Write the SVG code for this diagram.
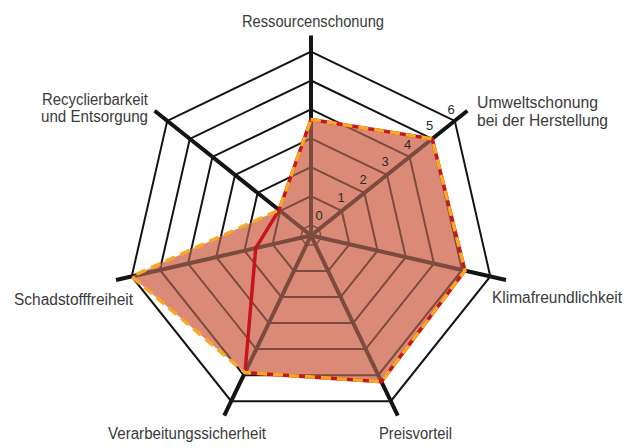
<svg xmlns="http://www.w3.org/2000/svg" xmlns:xlink="http://www.w3.org/1999/xlink" width="638" height="448" viewBox="0 0 638 448">
  <style>
    .ring { fill: none; stroke-width: 2; stroke-linejoin: miter; }
    .ring-0 { fill: none; stroke-width: 1.4; }
    .spoke { fill: none; stroke-width: 4; }
    .area { fill: #dc8a78; stroke: none; }
    .series-a { fill: none; stroke: #c4161c; stroke-width: 3.5; stroke-linejoin: miter; }
    .series-b { fill: none; stroke: #f8a824; stroke-width: 3.5; stroke-dasharray: 10 6; stroke-linejoin: miter; }
    .axis-label { font-family: "Liberation Sans", Arial, sans-serif; font-size: 16px; fill: #3a3a3a; }
    .tick { font-family: "Liberation Sans", Arial, sans-serif; font-size: 13px; fill: #2a2a2a; text-anchor: middle; }
  </style>
  <defs>
    <!-- heptagonal grid: rings 0..6 and seven spokes, centred on the origin -->
    <g id="grid">
      <polygon class="ring-0" points="0,-10.5 8.21,-6.55 10.24,2.34 4.56,9.46 -4.56,9.46 -10.24,2.34 -8.21,-6.55"/>
      <polygon class="ring" points="0,-39.4 30.8,-24.57 38.41,8.77 17.09,35.5 -17.09,35.5 -38.41,8.77 -30.8,-24.57"/>
      <polygon class="ring" points="0,-68.3 53.4,-42.58 66.59,15.2 29.63,61.54 -29.63,61.54 -66.59,15.2 -53.4,-42.58"/>
      <polygon class="ring" points="0,-97.2 75.99,-60.6 94.76,21.63 42.17,87.57 -42.17,87.57 -94.76,21.63 -75.99,-60.6"/>
      <polygon class="ring" points="0,-126.1 98.59,-78.62 122.94,28.06 54.71,113.61 -54.71,113.61 -122.94,28.06 -98.59,-78.62"/>
      <polygon class="ring" points="0,-155 121.18,-96.64 151.11,34.49 67.25,139.65 -67.25,139.65 -151.11,34.49 -121.18,-96.64"/>
      <polygon class="ring" points="0,-183.9 143.78,-114.66 179.29,40.92 79.79,165.69 -79.79,165.69 -179.29,40.92 -143.78,-114.66"/>
      <path class="spoke" d="M0,0V-200 M0,0L156.37,-124.7 M0,0L194.99,44.5 M0,0L86.78,180.19 M0,0L-86.78,180.19 M0,0L-194.99,44.5 M0,0L-156.37,-124.7"/>
    </g>
    <clipPath id="area-clip">
      <polygon points="0,-116 121.18,-96.64 153.94,35.14 70.38,146.14 -65.99,137.04 -179.29,40.92 -31.9,-25.44"/>
    </clipPath>
  </defs>

  <rect width="638" height="448" fill="#ffffff"/>

  <g id="chart" transform="translate(311,235.5)">
    <use id="grid-outer" href="#grid" xlink:href="#grid" stroke="#141414"/>
    <polygon id="area" class="area" points="0,-116 121.18,-96.64 153.94,35.14 70.38,146.14 -65.99,137.04 -179.29,40.92 -31.9,-25.44"/>
    <use id="grid-inner" href="#grid" xlink:href="#grid" stroke="#7b4b3e" clip-path="url(#area-clip)"/>
    <g id="series">
      <polygon class="series-a" points="0,-116 121.18,-96.64 153.94,35.14 70.38,146.14 -65.99,137.04 -55.28,12.62 -31.9,-25.44"/>
      <polygon class="series-b" points="0,-116 121.18,-96.64 153.94,35.14 70.38,146.14 -65.99,137.04 -179.29,40.92 -31.9,-25.44"/>
    </g>
  </g>

  <!-- scale values along the second spoke -->
  <g id="scale">
    <text class="tick" x="319" y="219.5">0</text>
    <text class="tick" x="341" y="201.5">1</text>
    <text class="tick" x="363" y="184">2</text>
    <text class="tick" x="385" y="166">3</text>
    <text class="tick" x="407.5" y="149">4</text>
    <text class="tick" x="429.5" y="130">5</text>
    <text class="tick" x="451" y="113.5">6</text>
  </g>

  <g id="label-ressourcen">
    <text class="axis-label" x="313" y="27" text-anchor="middle" textLength="142" lengthAdjust="spacingAndGlyphs">Ressourcenschonung</text>
  </g>
  <g id="label-umwelt">
    <text class="axis-label" x="477" y="108" textLength="121" lengthAdjust="spacingAndGlyphs">Umweltschonung</text>
    <text class="axis-label" x="477" y="125.5" textLength="131" lengthAdjust="spacingAndGlyphs">bei der Herstellung</text>
  </g>
  <g id="label-klima">
    <text class="axis-label" x="492" y="303" textLength="130" lengthAdjust="spacingAndGlyphs">Klimafreundlichkeit</text>
  </g>
  <g id="label-preis">
    <text class="axis-label" x="379" y="439" textLength="73" lengthAdjust="spacingAndGlyphs">Preisvorteil</text>
  </g>
  <g id="label-verarbeitung">
    <text class="axis-label" x="266" y="439" text-anchor="end" textLength="158" lengthAdjust="spacingAndGlyphs">Verarbeitungssicherheit</text>
  </g>
  <g id="label-schadstoff">
    <text class="axis-label" x="133" y="305" text-anchor="end" textLength="119" lengthAdjust="spacingAndGlyphs">Schadstofffreiheit</text>
  </g>
  <g id="label-recycling">
    <text class="axis-label" x="148" y="104.5" text-anchor="end" textLength="106" lengthAdjust="spacingAndGlyphs">Recyclierbarkeit</text>
    <text class="axis-label" x="148" y="122" text-anchor="end" textLength="107" lengthAdjust="spacingAndGlyphs">und Entsorgung</text>
  </g>
</svg>
